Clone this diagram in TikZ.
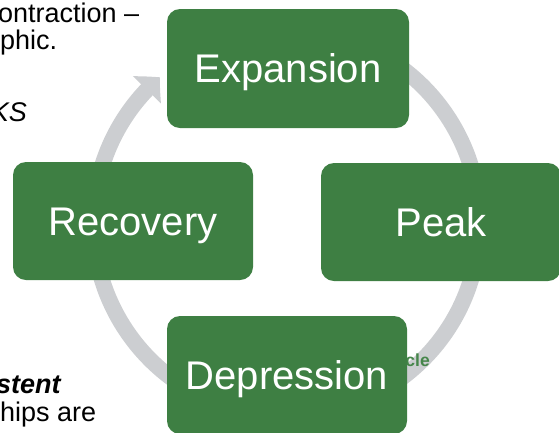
\documentclass[tikz,border=0pt]{standalone}
\usepackage{fontspec}
\setmainfont{Liberation Sans}
\usetikzlibrary{arrows.meta,bending}
\definecolor{boxgreen}{RGB}{62,127,67}
\definecolor{ringgray}{RGB}{204,206,209}
\definecolor{titlegreen}{RGB}{70,134,75}
\tikzset{
  box/.style={fill=boxgreen, rounded corners=13pt, minimum width=240pt, minimum height=118pt,
    inner sep=0pt, text=white, font=\fontsize{40}{48}\selectfont, text height=28.6pt, text depth=0pt},
  ring/.style={draw=ringgray, line width=16pt},
  bgtext/.style={inner sep=0pt, anchor=base west, font=\fontsize{27}{32}\selectfont},
}
\begin{document}
\begin{tikzpicture}[x=1pt,y=-1pt]
\useasboundingbox (0,0) rectangle (559,432);
% slide text behind the graphic
\node[bgtext] (t1) at (-2,22.5) {ontraction –};
\node[bgtext] (t2) at (0,49) {phic.};
\node[bgtext, anchor=base east, font=\fontsize{27}{32}\selectfont\itshape] (t3) at (27,121) {KS};
\node[bgtext, font=\fontsize{27}{32}\selectfont\bfseries\itshape] (t4) at (-4,393) {stent};
\node[bgtext] (t5) at (0,421) {hips are};
% cycle ring
\coordinate (c) at (286.5,223);
\draw[ring, -{Triangle[width=38pt,length=18pt,bend]}]
  ([shift={(-80:193)}]c) arc[start angle=-80, end angle=229, radius=193];
% title partly hidden
\node[inner sep=0pt, anchor=base east, text=titlegreen,
  font=\bfseries\fontsize{17.5}{20}\selectfont] (title) at (430,366.5) {Business Cycle};
% boxes
\node[box, minimum width=242pt, minimum height=119pt] (exp) at (288,68.5) {Expansion};
\node[box] (peak) at (441,222) {Peak};
\node[box] (dep) at (287,375) {Depression};
\node[box] (rec) at (133,221) {Recovery};
\end{tikzpicture}
\end{document}
